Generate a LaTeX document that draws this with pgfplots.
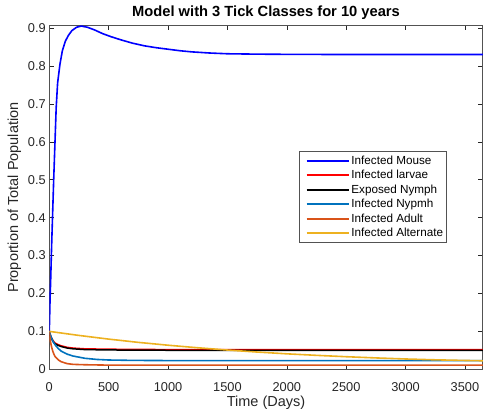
\documentclass[border=0pt]{standalone}
\usepackage{fontspec}
\setmainfont{Liberation Sans}
\usepackage{pgfplots}
\pgfplotsset{compat=1.18}
\definecolor{mnymph}{rgb}{0,0.447,0.741}
\definecolor{madult}{rgb}{0.85,0.325,0.098}
\definecolor{malt}{rgb}{0.929,0.694,0.125}
\definecolor{axgray}{rgb}{0.15,0.15,0.15}
\begin{document}
\begin{tikzpicture}
\begin{axis}[
  at={(0,0)}, anchor=south west,
  scale only axis, width=433.5pt, height=343.6pt,
  xmin=0, xmax=3650, ymin=0, ymax=0.906,
  xtick={0,500,1000,1500,2000,2500,3000,3500},
  ytick={0,0.1,0.2,0.3,0.4,0.5,0.6,0.7,0.8,0.9},
  yticklabels={0,0.1,0.2,0.3,0.4,0.5,0.6,0.7,0.8,0.9},
  tick align=inside, major tick length=4.5pt,
  axis line style={draw=axgray!80, line width=0.6pt},
  every tick/.style={draw=axgray, line width=0.5pt},
  tick label style={font=\fontsize{12.8}{14}\selectfont, text=axgray},
  xticklabel style={yshift=-9.5pt},
  /pgf/number format/assume math mode=true,
  /pgf/number format/1000 sep={},
  title={\bfseries Model with 3 Tick Classes for 10 years},
  title style={font=\fontsize{14.7}{16}\selectfont, yshift=-3pt},
  xlabel={Time (Days)}, ylabel={Proportion of Total Population},
  label style={font=\fontsize{14.5}{16}\selectfont, text=axgray},
  xlabel style={yshift=2.5pt},
  ylabel style={yshift=0pt},
  legend style={at={(0.916,0.635)}, anchor=north east, draw=axgray!80, line width=0.5pt,
    font=\fontsize{11.7}{13}\selectfont, row sep=0.5pt, inner xsep=1pt, inner ysep=2.5pt},
  legend cell align=left,
  legend image code/.code={\path (0pt,0pt); \draw[#1, line width=1.7pt] (6pt,0pt) -- (48pt,0pt);},
]
\addplot[blue, line width=1.6pt] coordinates {
(0,0.1)(3,0.14)(6,0.18)(12,0.24)(20,0.33)(28,0.41)(37,0.5)(48,0.6)(58,0.69)(70,0.755)(90,0.805)(110,0.84)(135,0.865)(160,0.88)(190,0.893)(230,0.902)(270,0.905)(320,0.902)(380,0.895)(450,0.885)(520,0.877)(600,0.869)(700,0.86)(800,0.853)(900,0.848)(1000,0.844)(1100,0.840)(1200,0.837)(1350,0.834)(1500,0.832)(1750,0.831)(2000,0.8305)(2500,0.830)(3000,0.830)(3650,0.830)};
\addlegendentry{Infected Mouse}
\addplot[red, line width=1.5pt] coordinates {
(0,0.1)(5,0.094)(10,0.089)(18,0.083)(25,0.079)(35,0.074)(50,0.069)(75,0.065)(100,0.062)(150,0.058)(200,0.056)(300,0.054)(500,0.053)(1000,0.052)(2000,0.052)(3650,0.052)};
\addlegendentry{Infected larvae}
\addplot[black, line width=1.5pt] coordinates {
(0,0.1)(5,0.093)(10,0.088)(18,0.082)(25,0.077)(35,0.072)(50,0.067)(75,0.063)(100,0.06)(150,0.056)(200,0.054)(300,0.052)(500,0.051)(1000,0.0502)(2000,0.050)(3650,0.050)};
\addlegendentry{Exposed Nymph}
\addplot[mnymph, line width=1.6pt] coordinates {
(0,0.1)(5,0.095)(10,0.09)(18,0.083)(25,0.078)(35,0.071)(50,0.064)(75,0.055)(100,0.048)(150,0.04)(200,0.035)(250,0.032)(300,0.029)(400,0.026)(500,0.0245)(700,0.0235)(1000,0.023)(2000,0.023)(3650,0.023)};
\addlegendentry{Infected Nypmh}
\addplot[madult, line width=1.6pt] coordinates {
(0,0.1)(3,0.09)(6,0.082)(10,0.073)(15,0.065)(20,0.058)(30,0.047)(40,0.039)(50,0.033)(75,0.025)(100,0.02)(150,0.015)(200,0.013)(300,0.012)(500,0.011)(1000,0.011)(3650,0.011)};
\addlegendentry{Infected Adult}
\addplot[malt, line width=1.6pt] coordinates {
(0,0.1)(250,0.0893)(500,0.0796)(750,0.071)(1000,0.0635)(1250,0.0568)(1500,0.0508)(1750,0.0455)(2000,0.0408)(2250,0.0368)(2500,0.0332)(2750,0.0300)(3000,0.0272)(3250,0.0250)(3500,0.0233)(3650,0.0225)};
\addlegendentry{Infected Alternate}
\end{axis}
\pgfresetboundingbox
\path[use as bounding box] (-49.3pt,-38.7pt) rectangle (433.7pt,369.3pt);
\end{tikzpicture}
\end{document}
